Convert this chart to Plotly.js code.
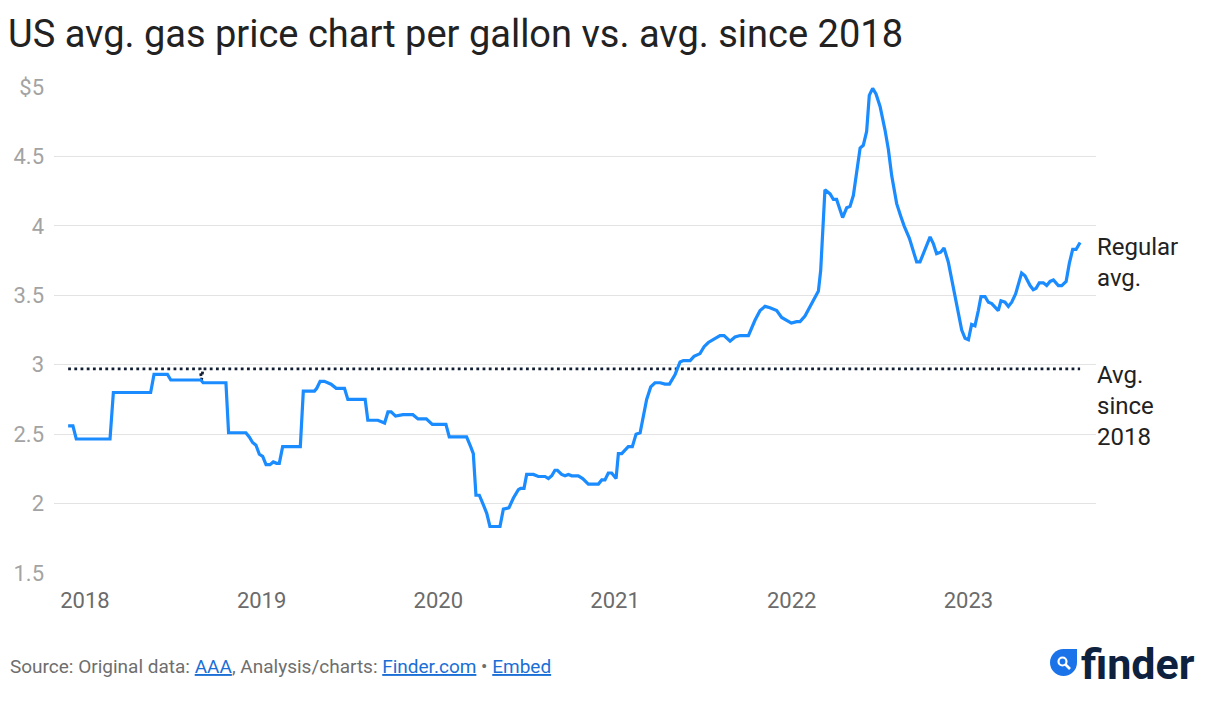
<!DOCTYPE html>
<html>
<head>
<meta charset="utf-8">
<script src="https://cdn.plot.ly/plotly-3.0.1.min.js"></script>
<style>
  html, body { margin: 0; padding: 0; background: #fff; }
  #chart { width: 1207px; height: 701px; }
</style>
</head>
<body>
<div id="chart"></div>
<script>
// ---- Data (decimal year, US average regular gas price $/gal) ----
const dates = [
  2017.905, 2017.932, 2017.951, 2018.142, 2018.161, 2018.372, 2018.391, 2018.467, 2018.486, 2018.656,
  2018.669, 2018.798, 2018.813, 2018.911, 2018.930, 2018.949, 2018.968, 2018.987, 2019.006, 2019.025,
  2019.047, 2019.066, 2019.085, 2019.100, 2019.119, 2019.219, 2019.236, 2019.299, 2019.312, 2019.331,
  2019.355, 2019.393, 2019.422, 2019.469, 2019.488, 2019.586, 2019.601, 2019.658, 2019.696, 2019.715,
  2019.733, 2019.758, 2019.800, 2019.856, 2019.885, 2019.932, 2019.966, 2020.043, 2020.062, 2020.160,
  2020.183, 2020.198, 2020.213, 2020.232, 2020.255, 2020.274, 2020.292, 2020.349, 2020.368, 2020.400,
  2020.425, 2020.453, 2020.466, 2020.485, 2020.500, 2020.538, 2020.566, 2020.604, 2020.623, 2020.642,
  2020.660, 2020.674, 2020.698, 2020.717, 2020.736, 2020.755, 2020.792, 2020.817, 2020.849, 2020.906,
  2020.925, 2020.943, 2020.962, 2020.981, 2021.006, 2021.019, 2021.038, 2021.057, 2021.075, 2021.098,
  2021.119, 2021.142, 2021.160, 2021.179, 2021.202, 2021.226, 2021.255, 2021.283, 2021.308, 2021.340,
  2021.368, 2021.387, 2021.425, 2021.447, 2021.481, 2021.504, 2021.528, 2021.557, 2021.594, 2021.617,
  2021.651, 2021.679, 2021.708, 2021.755, 2021.792, 2021.821, 2021.849, 2021.877, 2021.915, 2021.943,
  2021.971, 2021.998, 2022.028, 2022.047, 2022.075, 2022.104, 2022.132, 2022.151, 2022.164, 2022.175,
  2022.188, 2022.217, 2022.236, 2022.254, 2022.273, 2022.288, 2022.311, 2022.330, 2022.349, 2022.368,
  2022.387, 2022.405, 2022.424, 2022.439, 2022.458, 2022.477, 2022.500, 2022.528, 2022.547, 2022.566,
  2022.594, 2022.617, 2022.636, 2022.666, 2022.688, 2022.707, 2022.726, 2022.754, 2022.783, 2022.802,
  2022.820, 2022.843, 2022.862, 2022.886, 2022.915, 2022.943, 2022.962, 2022.981, 2023.000, 2023.018,
  2023.037, 2023.056, 2023.071, 2023.094, 2023.113, 2023.132, 2023.151, 2023.169, 2023.184, 2023.207,
  2023.226, 2023.245, 2023.267, 2023.283, 2023.301, 2023.320, 2023.349, 2023.367, 2023.383, 2023.401,
  2023.424, 2023.443, 2023.462, 2023.481, 2023.509, 2023.528, 2023.553, 2023.571, 2023.590, 2023.609,
  2023.632
];
const regularAvg = [
  2.56, 2.56, 2.465, 2.465, 2.80, 2.80, 2.93, 2.93, 2.89, 2.89,
  2.87, 2.87, 2.51, 2.51, 2.48, 2.44, 2.42, 2.355, 2.34, 2.28,
  2.28, 2.30, 2.29, 2.29, 2.41, 2.41, 2.81, 2.81, 2.83, 2.88,
  2.88, 2.86, 2.83, 2.83, 2.75, 2.75, 2.60, 2.60, 2.58, 2.66,
  2.66, 2.63, 2.64, 2.64, 2.61, 2.61, 2.57, 2.57, 2.48, 2.48,
  2.41, 2.36, 2.06, 2.06, 1.99, 1.93, 1.835, 1.835, 1.96, 1.97,
  2.04, 2.10, 2.11, 2.11, 2.21, 2.21, 2.195, 2.195, 2.18, 2.20,
  2.24, 2.24, 2.21, 2.20, 2.21, 2.20, 2.20, 2.18, 2.14, 2.14,
  2.17, 2.17, 2.22, 2.22, 2.18, 2.36, 2.36, 2.39, 2.41, 2.41,
  2.50, 2.51, 2.63, 2.75, 2.84, 2.87, 2.87, 2.86, 2.86, 2.93,
  3.02, 3.03, 3.03, 3.06, 3.08, 3.13, 3.16, 3.18, 3.21, 3.21,
  3.17, 3.20, 3.21, 3.21, 3.32, 3.39, 3.42, 3.41, 3.39, 3.34,
  3.32, 3.30, 3.31, 3.31, 3.35, 3.42, 3.49, 3.53, 3.68, 3.97,
  4.26, 4.23, 4.19, 4.19, 4.12, 4.06, 4.13, 4.14, 4.22, 4.40,
  4.56, 4.58, 4.68, 4.94, 4.99, 4.95, 4.86, 4.69, 4.55, 4.36,
  4.16, 4.07, 4.00, 3.91, 3.81, 3.74, 3.74, 3.83, 3.92, 3.87,
  3.80, 3.81, 3.84, 3.74, 3.56, 3.37, 3.25, 3.19, 3.18, 3.29,
  3.28, 3.39, 3.49, 3.49, 3.45, 3.44, 3.41, 3.39, 3.46, 3.45,
  3.42, 3.45, 3.51, 3.59, 3.66, 3.64, 3.57, 3.54, 3.55, 3.59,
  3.59, 3.57, 3.60, 3.61, 3.57, 3.57, 3.60, 3.73, 3.83, 3.83,
  3.88
];
// Average since 2018 (with the small glitch visible mid-2018)
const avgDates  = [2017.905, 2018.652, 2018.660, 2018.668, 2023.632];
const avgValues = [2.97, 2.97, 2.89, 2.97, 2.97];

const yTickVals  = [1.5, 2, 2.5, 3, 3.5, 4, 4.5, 5];
const yTickText  = ['1.5', '2', '2.5', '3', '3.5', '4', '4.5', '$5'];
const xTickVals  = [2018, 2019, 2020, 2021, 2022, 2023];
const xTickText  = ['2018', '2019', '2020', '2021', '2022', '2023'];

const titleText  = 'US avg. gas price chart per gallon vs. avg. since 2018';
const labelRegular = 'Regular<br>avg.';
const labelAvg     = 'Avg.<br>since<br>2018';

// ---- Layout helpers (pixel -> paper) ----
const W = 1207, H = 701;
const M = { l: 54, r: 111, t: 87, b: 128 };
const PW = W - M.l - M.r, PH = H - M.t - M.b;
const px = x => (x - M.l) / PW;
const py = y => (H - M.b - y) / PH;

const blue = '#1a8cff';
const linkStyle = 'color:#1a6fd6;text-decoration:underline';

const traces = [
  {
    x: avgDates, y: avgValues, type: 'scatter', mode: 'lines',
    line: { color: '#111d33', width: 2.8, dash: '2.8px,3.4px', shape: 'linear' },
    hoverinfo: 'skip', showlegend: false
  },
  {
    x: dates, y: regularAvg, type: 'scatter', mode: 'lines',
    line: { color: blue, width: 3.2, shape: 'linear' },
    hoverinfo: 'skip', showlegend: false
  }
];

const layout = {
  width: W, height: H,
  margin: M,
  paper_bgcolor: '#fff', plot_bgcolor: '#fff',
  font: { family: 'Roboto, sans-serif', color: '#333' },
  showlegend: false,
  title: {
    text: titleText,
    font: { family: 'Roboto, sans-serif', size: 38, color: '#222' },
    xref: 'container', yref: 'container',
    x: 8 / W, xanchor: 'left',
    y: 1 - 34 / H, yanchor: 'middle'
  },
  xaxis: {
    type: 'linear',
    range: [2017.825, 2023.722],
    tickvals: xTickVals, ticktext: xTickText,
    showgrid: false, zeroline: false, showline: false,
    ticks: '', ticklabelstandoff: 12,
    tickfont: { size: 22, color: '#6b6b6b', family: 'Roboto, sans-serif' },
    fixedrange: true
  },
  yaxis: {
    range: [1.5, 5],
    tickvals: yTickVals, ticktext: yTickText,
    showgrid: true, gridcolor: '#e3e3e3', gridwidth: 1,
    zeroline: false, showline: false,
    ticks: '', ticklabelstandoff: 9,
    tickfont: { size: 22, color: '#a3a3a3', family: 'Roboto, sans-serif' },
    fixedrange: true
  },
  annotations: [
    {
      xref: 'paper', yref: 'y', x: 1, y: 3.735,
      xanchor: 'left', yanchor: 'middle', align: 'left', xshift: -1,
      text: labelRegular, showarrow: false,
      font: { size: 24, color: '#222', family: 'Roboto, sans-serif' }
    },
    {
      xref: 'paper', yref: 'y', x: 1, y: 2.70,
      xanchor: 'left', yanchor: 'middle', align: 'left', xshift: -1,
      text: labelAvg, showarrow: false,
      font: { size: 24, color: '#222', family: 'Roboto, sans-serif' }
    },
    {
      xref: 'paper', yref: 'paper', x: px(8), y: py(666),
      xanchor: 'left', yanchor: 'middle', align: 'left',
      showarrow: false,
      text: 'Source: Original data: <span style="' + linkStyle + '">AAA</span>, Analysis/charts: ' +
            '<span style="' + linkStyle + '">Finder.com</span> • <span style="' + linkStyle + '">Embed</span>',
      font: { size: 19, color: '#6e6e6e', family: 'Roboto, sans-serif' }
    },
    {
      xref: 'paper', yref: 'paper', x: px(1079), y: py(664),
      xanchor: 'left', yanchor: 'middle', showarrow: false,
      text: '<b>finder</b>',
      font: { size: 43, color: '#0e2240', family: 'Roboto, sans-serif' }
    }
  ],
  shapes: [
    // finder logo: blue leaf with pointed top-right corner
    { type: 'circle', xref: 'paper', yref: 'paper',
      x0: px(1050), x1: px(1077), y0: py(676), y1: py(649),
      fillcolor: '#1a73e8', line: { width: 0 } },
    { type: 'rect', xref: 'paper', yref: 'paper',
      x0: px(1063.5), x1: px(1077), y0: py(662.5), y1: py(649),
      fillcolor: '#1a73e8', line: { width: 0 } },
    // magnifier
    { type: 'circle', xref: 'paper', yref: 'paper',
      x0: px(1058.5), x1: px(1066.5), y0: py(665.5), y1: py(657.5),
      fillcolor: 'rgba(0,0,0,0)', line: { color: '#fff', width: 2.2 } },
    { type: 'line', xref: 'paper', yref: 'paper',
      x0: px(1065.5), x1: px(1070), y0: py(664.5), y1: py(669),
      line: { color: '#fff', width: 2.6 } }
  ]
};

Plotly.newPlot('chart', traces, layout, { staticPlot: true, displayModeBar: false });
</script>
</body>
</html>
